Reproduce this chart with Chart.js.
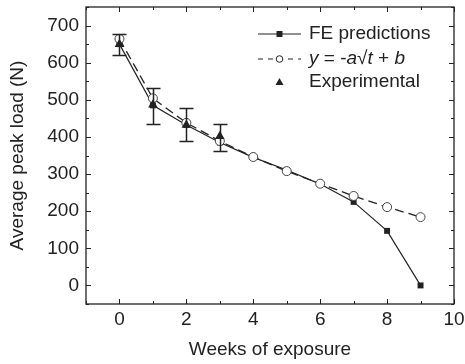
<!DOCTYPE html>
<html>
<head>
<meta charset="utf-8">
<script src="https://cdn.jsdelivr.net/npm/chart.js@4.4.1/dist/chart.umd.min.js"></script>
<style>
  html, body { margin: 0; padding: 0; background: #fff; }
  #wrap { width: 465px; height: 364px; }
</style>
</head>
<body>
<div id="wrap"><canvas id="c" width="465" height="364"></canvas></div>
<script>
// Weeks of exposure
const weeks = [0, 1, 2, 3, 4, 5, 6, 7, 8, 9];
// FE predicted peak load (N)
const fePredictions = [650, 485, 432, 385, 345, 311, 273, 225, 147, 0];
// Square-root fit y = -a*sqrt(t) + b (N)
const fitValues = [664, 504, 438, 389, 346, 308, 274, 241, 211, 184];
// Experimental peak load with error range (N)
const expWeeks = [0, 1, 2, 3];
const expValues = [650, 487, 432, 402];
const expHigh = [678, 532, 477, 436];
const expLow = [620, 436, 390, 362];
// Axis tick labels
const xTicks = [0, 2, 4, 6, 8, 10];
const yTicks = [0, 100, 200, 300, 400, 500, 600, 700];

const INK = '#222';
const FONT = '"Liberation Sans", Arial, sans-serif';
const FS = 19;

const pts = (xs, ys) => xs.map((x, i) => ({ x, y: ys[i] }));
const noPad = s => { s.paddingTop = 0; s.paddingBottom = 0; s.paddingLeft = 0; s.paddingRight = 0; };

// Inward major/minor ticks on all four sides plus the frame
const frameTicks = {
  id: 'frameTicks',
  afterDraw(chart) {
    const { ctx, chartArea: a, scales: { x, y } } = chart;
    ctx.save();
    ctx.strokeStyle = INK;
    ctx.lineWidth = 1.3;
    ctx.strokeRect(a.left, a.top, a.right - a.left, a.bottom - a.top);
    ctx.lineWidth = 1;
    ctx.beginPath();
    for (let v = -1; v <= 10; v += 1) {
      const px = Math.round(x.getPixelForValue(v)) + 0.5;
      const len = v % 2 === 0 ? 5 : 3;
      ctx.moveTo(px, a.bottom); ctx.lineTo(px, a.bottom - len);
      ctx.moveTo(px, a.top); ctx.lineTo(px, a.top + len);
    }
    for (let v = -50; v <= 750; v += 50) {
      const py = Math.round(y.getPixelForValue(v)) + 0.5;
      const len = v % 100 === 0 ? 5 : 3;
      ctx.moveTo(a.left, py); ctx.lineTo(a.left + len, py);
      ctx.moveTo(a.right, py); ctx.lineTo(a.right - len, py);
    }
    ctx.stroke();
    ctx.restore();
  }
};

// Error bars for the experimental points
const errorBars = {
  id: 'errorBars',
  afterDatasetsDraw(chart) {
    const { ctx, scales: { x, y } } = chart;
    ctx.save();
    ctx.strokeStyle = INK;
    ctx.lineWidth = 1.5;
    ctx.beginPath();
    expWeeks.forEach((w, i) => {
      const px = Math.round(x.getPixelForValue(w)) + 0.5;
      const hi = Math.round(y.getPixelForValue(expHigh[i])) + 0.5;
      const lo = Math.round(y.getPixelForValue(expLow[i])) + 0.5;
      ctx.moveTo(px, hi); ctx.lineTo(px, lo);
      ctx.moveTo(px - 7, hi); ctx.lineTo(px + 7, hi);
      ctx.moveTo(px - 7, lo); ctx.lineTo(px + 7, lo);
    });
    ctx.stroke();
    ctx.restore();
  }
};

// Legend with an italic formula entry
const formulaLegend = {
  id: 'formulaLegend',
  afterDraw(chart) {
    const { ctx, chartArea: a } = chart;
    const x0 = a.left + 172, x1 = a.left + 215, xm = (x0 + x1) / 2, tx = a.left + 223;
    const rows = [a.top + 27, a.top + 52, a.top + 75];
    ctx.save();
    ctx.strokeStyle = INK; ctx.fillStyle = INK;
    // FE predictions
    ctx.lineWidth = 1.2;
    ctx.beginPath(); ctx.moveTo(x0, rows[0]); ctx.lineTo(x1, rows[0]); ctx.stroke();
    ctx.fillRect(xm - 3, rows[0] - 3, 6, 6);
    // fit
    ctx.setLineDash([5, 5]);
    ctx.beginPath(); ctx.moveTo(x0, rows[1]); ctx.lineTo(x1, rows[1]); ctx.stroke();
    ctx.setLineDash([]);
    ctx.fillStyle = '#fff';
    ctx.lineWidth = 1;
    ctx.beginPath(); ctx.arc(xm, rows[1], 3.3, 0, Math.PI * 2); ctx.fill(); ctx.stroke();
    ctx.fillStyle = INK;
    // experimental
    ctx.beginPath();
    ctx.moveTo(xm, rows[2] - 4); ctx.lineTo(xm + 4, rows[2] + 3); ctx.lineTo(xm - 4, rows[2] + 3);
    ctx.closePath(); ctx.fill();
    // labels
    ctx.textBaseline = 'middle';
    ctx.textAlign = 'left';
    const reg = FS + 'px ' + FONT, ital = 'italic ' + FS + 'px ' + FONT;
    ctx.font = reg;
    ctx.fillText('FE predictions', tx, rows[0]);
    ctx.fillText('Experimental', tx, rows[2]);
    let cx = tx;
    [['y', ital], [' = -', reg], ['a', ital], ['\u221A', reg], ['t', ital], [' + ', reg], ['b', ital]].forEach(([s, f]) => {
      ctx.font = f;
      ctx.fillText(s, cx, rows[1]);
      cx += ctx.measureText(s).width;
    });
    ctx.restore();
  }
};

new Chart(document.getElementById('c'), {
  type: 'line',
  data: {
    datasets: [
      {
        label: 'FE predictions',
        data: pts(weeks, fePredictions),
        borderColor: INK, borderWidth: 1.2,
        pointStyle: 'rect', pointRadius: 4.2,
        pointBackgroundColor: INK, pointBorderColor: INK, pointBorderWidth: 0,
        order: 3
      },
      {
        label: 'y = -a\u221At + b',
        data: pts(weeks, fitValues),
        borderColor: INK, borderWidth: 1.3, borderDash: [9, 5],
        pointStyle: 'circle', pointRadius: 4.5,
        pointBackgroundColor: '#fff', pointBorderColor: '#444', pointBorderWidth: 1,
        order: 2
      },
      {
        label: 'Experimental',
        data: pts(expWeeks, expValues),
        showLine: false,
        pointStyle: 'triangle', pointRadius: 5.5,
        pointBackgroundColor: INK, pointBorderColor: INK, pointBorderWidth: 0,
        order: 1
      }
    ]
  },
  options: {
    responsive: false,
    animation: false,
    layout: { padding: { top: 7, right: 11, left: 0, bottom: 0 } },
    plugins: { legend: { display: false }, tooltip: { enabled: false } },
    elements: { line: { tension: 0 } },
    scales: {
      x: {
        type: 'linear', min: -1, max: 10,
        afterBuildTicks: s => { s.ticks = xTicks.map(v => ({ value: v })); },
        afterFit: s => { s.height = 60; noPad(s); },
        grid: { display: false, drawTicks: false },
        border: { display: false },
        ticks: { color: INK, font: { family: FONT, size: FS }, padding: 4, maxRotation: 0 },
        title: { display: true, text: 'Weeks of exposure', color: INK, font: { family: FONT, size: FS }, padding: { top: 4, bottom: 3 } }
      },
      y: {
        type: 'linear', min: -50, max: 750,
        afterBuildTicks: s => { s.ticks = yTicks.map(v => ({ value: v })); },
        afterFit: s => { s.width = 86; noPad(s); },
        grid: { display: false, drawTicks: false },
        border: { display: false },
        ticks: { color: INK, font: { family: FONT, size: FS }, padding: 7 },
        title: { display: true, text: 'Average peak load (N)', color: INK, font: { family: FONT, size: FS }, padding: { bottom: 0, top: 6 } }
      }
    }
  },
  plugins: [errorBars, frameTicks, formulaLegend]
});
</script>
</body>
</html>
